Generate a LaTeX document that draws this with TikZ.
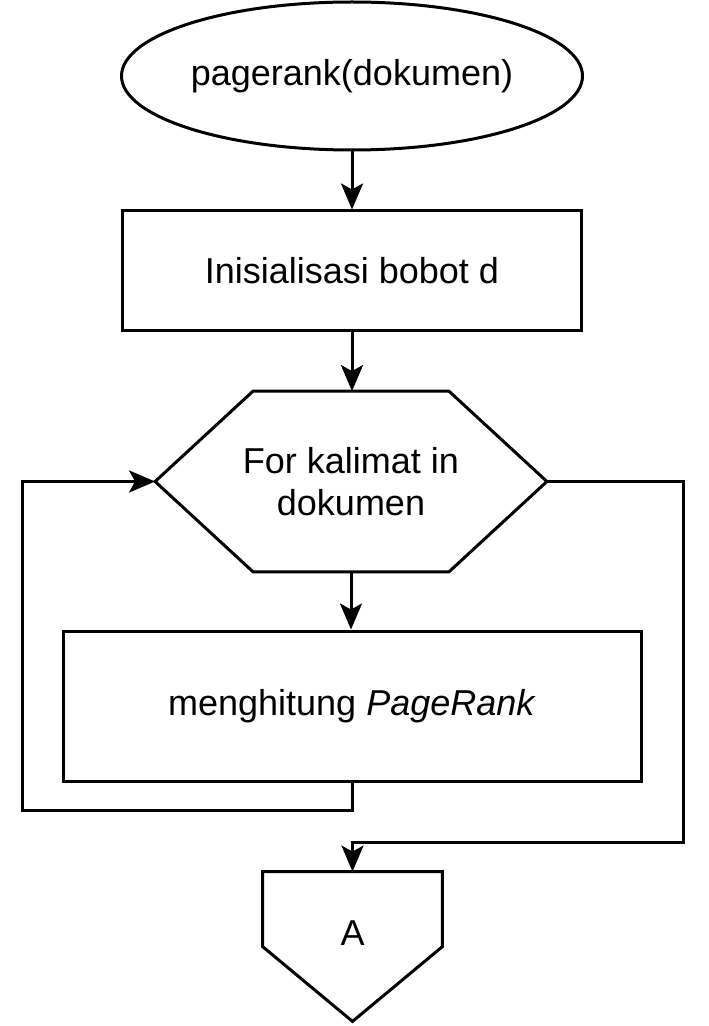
\documentclass[tikz,border=0pt]{standalone}
\usepackage{fontspec}
\setmainfont{Liberation Sans}
\usetikzlibrary{shapes.geometric,arrows.meta,calc}
\begin{document}
\begin{tikzpicture}[x=0.5pt,y=-0.5pt,
  every node/.style={font=\fontsize{18}{21}\selectfont, align=center, inner sep=0pt},
  shapeline/.style={line width=1.5pt, draw=black},
  ghost/.style={draw=none, rectangle},
  conn/.style={line width=1.5pt, -{Stealth[length=13pt,width=11pt,inset=3pt]}}]
\useasboundingbox (0,0) rectangle (708,1026);

% terminal
\node[ellipse, shapeline, minimum width=230.5pt, minimum height=74pt] (start) at (352,76) {pagerank(dokumen)};
% init
\node[rectangle, shapeline, minimum width=229.5pt, minimum height=59.5pt] (r1) at (352,270.5) {Inisialisasi bobot d};
% loop hexagon
\node[ghost, minimum width=195.5pt, minimum height=90pt] (hex) at (351,481.5) {For kalimat in\\dokumen};
\draw[shapeline] (hex.west) -- ($(hex.north west)+(98,0)$) -- ($(hex.north east)+(-98,0)$)
  -- (hex.east) -- ($(hex.south east)+(-98,0)$) -- ($(hex.south west)+(98,0)$) -- cycle;
% process
\node[rectangle, shapeline, minimum width=289pt, minimum height=75pt] (r2) at (352,706) {menghitung \textit{PageRank}};
% off-page connector
\node[ghost, minimum width=89.5pt, minimum height=74.5pt] (offp) at (352.5,946.5) {};
\draw[shapeline] (offp.north west) -- (offp.north east) -- ($(offp.north east)+(0,75)$)
  -- (offp.south) -- ($(offp.north west)+(0,75)$) -- cycle;
\node (offpA) at (352.5,933) {A};

\coordinate (loopL) at (22,810);
\coordinate (loopR) at (683,842);

\draw[conn] (start.south) -- (start.south |- r1.north);
\draw[conn] (r1.south) -- (r1.south |- hex.north);
\draw[conn] (hex.south) -- (hex.south |- r2.north);
\draw[conn] (r2.south) |- (loopL) |- (hex.west);
\draw[conn] (hex.east) -| (loopR) -| (offp.north);
\end{tikzpicture}
\end{document}
